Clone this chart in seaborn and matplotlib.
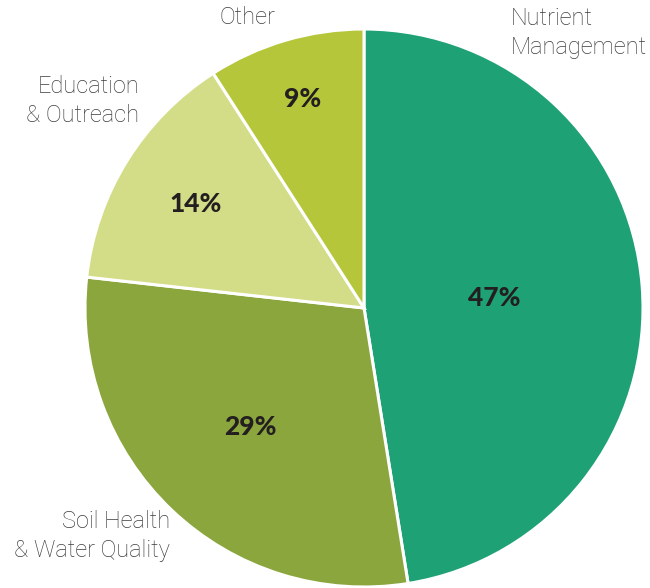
import numpy as np
import matplotlib
matplotlib.use("Agg")
import matplotlib.pyplot as plt
import seaborn as sns

categories = ["Nutrient\nManagement", "Soil Health\n& Water Quality", "Education\n& Outreach", "Other"]
values = [47, 29, 14, 9]
pct_labels = ["47%", "29%", "14%", "9%"]
colors = ["#1EA175", "#8AA63D", "#D3DC86", "#B5C63A"]

sns.set_theme(style="white")
plt.rcParams['font.family'] = ['Roboto', 'DejaVu Sans']

W, H = 650, 588
fig = plt.figure(figsize=(W / 100, H / 100), dpi=100)
cx, cy, R = 364, 308, 279
ax = fig.add_axes([(cx - R) / W, (H - cy - R) / H, 2 * R / W, 2 * R / H])
wedges, _ = ax.pie(values, colors=colors, startangle=90, counterclock=False,
                   radius=1, wedgeprops=dict(edgecolor="white", linewidth=2.2))
ax.set_xlim(-1, 1)
ax.set_ylim(-1, 1)
ax.set_aspect("equal")
ax.axis("off")

# percentage labels inside wedges
pct_r = [0.47, 0.59, 0.71, 0.78]
for w, lab, r in zip(wedges, pct_labels, pct_r):
    ang = np.deg2rad((w.theta1 + w.theta2) / 2)
    ax.text(r * np.cos(ang), r * np.sin(ang), lab, ha="center", va="center",
            fontsize=19, fontweight="black", color="#231F20",
            family=["Lato", "DejaVu Sans"])

# outside category labels (pixel positions)
label_pos = [(511, 33, "left"), (170, 536, "right"), (139, 101, "right"), (247, 18, "center")]
for lab, (px, py, ha) in zip(categories, label_pos):
    fig.text(px / W, 1 - py / H, lab, ha=ha, va="center", fontsize=17,
             fontweight="light", color="#3C3C3C", linespacing=1.3)

fig.savefig("out.png", dpi=100, facecolor="white")
